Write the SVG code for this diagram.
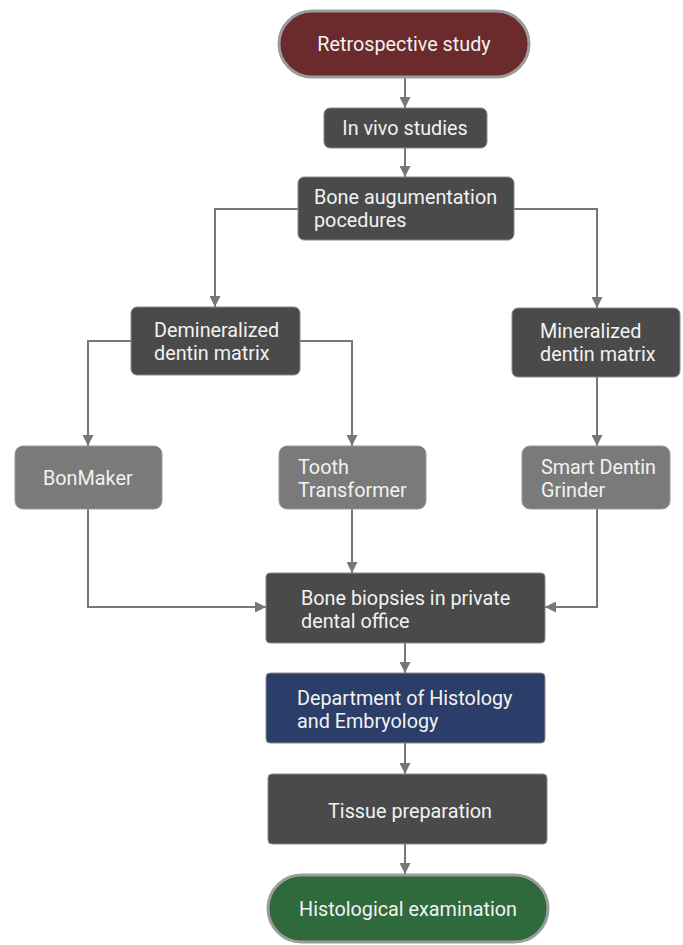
<svg xmlns="http://www.w3.org/2000/svg" width="683" height="945" viewBox="0 0 683 945">
<style>
.t{font-family:Roboto,"Liberation Sans",sans-serif;font-size:19.8px;fill:#f2f2f2}
.c{text-anchor:middle}
.dk{fill:#4a4a4a;stroke:#8a8a8a;stroke-width:1}
.lt{fill:#7a7a7a;stroke:#9a9a9a;stroke-width:1}
.e{fill:none;stroke:#777;stroke-width:2}
</style>
<defs>
<marker id="a" viewBox="0 0 10 10" refX="10" refY="5" markerWidth="5.5" markerHeight="5.5" orient="auto" markerUnits="strokeWidth">
<path d="M0,0 L10,5 L0,10 z" fill="#777"/>
</marker>
</defs>
<rect width="683" height="945" fill="#fff"/>
<g id="connectors">
<path class="e" d="M405,78 V108" marker-end="url(#a)"/>
<path class="e" d="M405,148 V177" marker-end="url(#a)"/>
<path class="e" d="M298,209 H215 V307" marker-end="url(#a)"/>
<path class="e" d="M514,209 H597 V308" marker-end="url(#a)"/>
<path class="e" d="M131,341 H88 V446" marker-end="url(#a)"/>
<path class="e" d="M300,341 H352 V446" marker-end="url(#a)"/>
<path class="e" d="M597,377 V446" marker-end="url(#a)"/>
<path class="e" d="M88,509 V607 H266" marker-end="url(#a)"/>
<path class="e" d="M352,509 V573" marker-end="url(#a)"/>
<path class="e" d="M597,509 V607 H545" marker-end="url(#a)"/>
<path class="e" d="M405,643 V673" marker-end="url(#a)"/>
<path class="e" d="M405,743 V774" marker-end="url(#a)"/>
<path class="e" d="M405,844 V874" marker-end="url(#a)"/>
</g>
<g id="retro">
<rect x="279" y="11" width="250" height="66" rx="33" fill="#6b2a2c" stroke="#9c9c9c" stroke-width="3"/>
<text class="t c" x="404" y="51">Retrospective study</text>
</g>
<g id="invivo">
<rect class="dk" x="324" y="108" width="163" height="40" rx="6"/>
<text class="t c" x="405" y="135">In vivo studies</text>
</g>
<g id="bone">
<rect class="dk" x="298" y="177" width="216" height="63" rx="6"/>
<text class="t" x="314" y="204">Bone augumentation</text>
<text class="t" x="314" y="227">pocedures</text>
</g>
<g id="demin">
<rect class="dk" x="131" y="307" width="169" height="68" rx="6"/>
<text class="t" x="154" y="337">Demineralized</text>
<text class="t" x="154" y="360">dentin matrix</text>
</g>
<g id="min">
<rect class="dk" x="512" y="308" width="168" height="69" rx="6"/>
<text class="t" x="540" y="338">Mineralized</text>
<text class="t" x="540" y="361">dentin matrix</text>
</g>
<g id="bonmaker">
<rect class="lt" x="15" y="446" width="147" height="63" rx="8"/>
<text class="t" x="43" y="485">BonMaker</text>
</g>
<g id="tooth">
<rect class="lt" x="279" y="446" width="147" height="63" rx="8"/>
<text class="t" x="298" y="474">Tooth</text>
<text class="t" x="298" y="497">Transformer</text>
</g>
<g id="smart">
<rect class="lt" x="522" y="446" width="148" height="63" rx="8"/>
<text class="t" x="541" y="474">Smart Dentin</text>
<text class="t" x="541" y="497">Grinder</text>
</g>
<g id="biopsies">
<rect class="dk" x="266" y="573" width="279" height="70" rx="4"/>
<text class="t" x="301" y="605">Bone biopsies in private</text>
<text class="t" x="301" y="628">dental office</text>
</g>
<g id="dept">
<rect x="266" y="673" width="279" height="70" rx="4" fill="#2b3e69" stroke="#8a8a8a" stroke-width="1"/>
<text class="t" x="297" y="705">Department of Histology</text>
<text class="t" x="297" y="728">and Embryology</text>
</g>
<g id="tissue">
<rect class="dk" x="268" y="774" width="279" height="70" rx="4"/>
<text class="t c" x="410" y="818">Tissue preparation</text>
</g>
<g id="histo">
<rect x="268" y="875" width="280" height="67" rx="33.5" fill="#2f6a3c" stroke="#9c9c9c" stroke-width="3"/>
<text class="t c" x="408" y="916">Histological examination</text>
</g>
</svg>
